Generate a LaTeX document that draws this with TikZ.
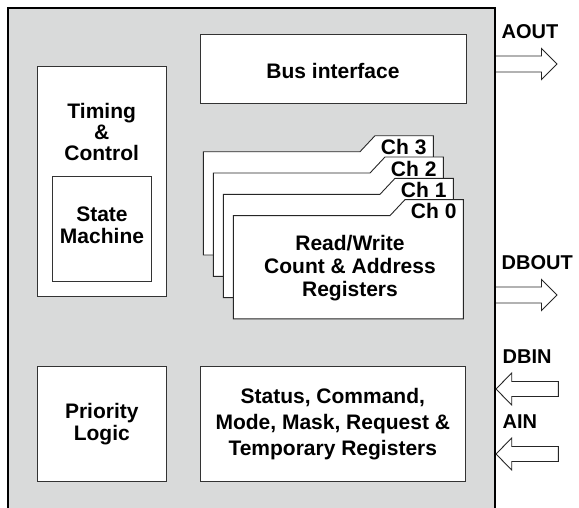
\documentclass[tikz,border=0pt]{standalone}
\usepackage{fontspec}
\setmainfont{Liberation Sans}
\usetikzlibrary{positioning}

\definecolor{chipgray}{RGB}{217,218,218}

\begin{document}
\begin{tikzpicture}[x=1pt, y=-1pt,
    block/.style={draw=black!80, fill=white, line width=0.9pt, inner sep=0pt, align=center,
                  font=\bfseries\fontsize{21}{22}\selectfont},
    card/.style={draw=black!85, fill=white, line width=0.9pt},
    lbl/.style={inner sep=0pt, align=center, font=\bfseries\fontsize{21}{21}\selectfont},
    pin/.style={inner sep=0pt, anchor=base west, font=\bfseries\fontsize{20}{22}\selectfont},
    bus/.style={draw=black!85, fill=white, line width=0.9pt}]
  \useasboundingbox (0,0) rectangle (579,507);

  % chip outline
  \draw[fill=chipgray, line width=2pt] (8,515) -- (8,8) -- (495,8) -- (495,515);

  \node (bus) [block, minimum width=266pt, minimum height=69pt, text height=20pt] at (333,68.5) {Bus interface};

  \node (timing) [block, minimum width=129pt, minimum height=230pt] at (101.7,181.6) {};
  \node (timtxt) [lbl, below=36.8pt of timing.north] {Timing\\\&\\Control};
  \node (state) [block, minimum width=99.4pt, minimum height=105pt, text depth=7pt] at (102,228.5) {State\\Machine};

  \node (prio) [block, minimum width=129.7pt, minimum height=115pt] at (101.8,424.2) {Priority\\Logic};
  \node (regs) [block, minimum width=265.7pt, minimum height=115pt,
                font=\bfseries\fontsize{21}{25.8}\selectfont] at (332.8,424.2)
        {Status, Command,\\Mode, Mask, Request \&\\Temporary Registers};

  % channel register cards
  \foreach \k/\i in {3/0, 2/1, 1/2, 0/3} {
    \pgfmathsetmacro\xl{203.3+10*\i}
    \pgfmathsetmacro\xs{360+10*\i}
    \pgfmathsetmacro\xr{433.3+10*\i}
    \pgfmathsetmacro\yt{151.7+21.3*\i}
    \pgfmathsetmacro\yb{255+21.3*\i}
    \draw[card] (\xl,\yt) -- (\xs,\yt) -- ({\xs+15},{\yt-16}) -- (\xr,{\yt-16})
                -- (\xr,\yb) -- (\xl,\yb) -- cycle;
    \node (ch\k) [lbl, anchor=base east] at ({\xr-6.6},{\yt+3}) {Ch \k};
  }
  \node (rw) [lbl, font=\bfseries\fontsize{21}{23.3}\selectfont] at (350,268)
        {Read/Write\\Count \& Address\\Registers};

  % bus arrows
  \foreach \y/\name in {64/AOUT, 295/DBOUT} {
    \draw[bus] (496,{\y-8}) -- (541.5,{\y-8}) -- (541.5,{\y-15.5}) -- (557,\y)
               -- (541.5,{\y+15.5}) -- (541.5,{\y+8}) -- (496,{\y+8});
    \node (\name) [pin] at (501.5,{\y-26}) {\name};
  }
  \foreach \y/\name in {389/DBIN, 454/AIN} {
    \draw[bus] (558.3,{\y-7.5}) -- (511.7,{\y-7.5}) -- (511.7,{\y-16}) -- (496,\y)
               -- (511.7,{\y+16}) -- (511.7,{\y+7.5}) -- (558.3,{\y+7.5}) -- cycle;
    \node (\name) [pin] at (502.5,{\y-26}) {\name};
  }
\end{tikzpicture}
\end{document}
